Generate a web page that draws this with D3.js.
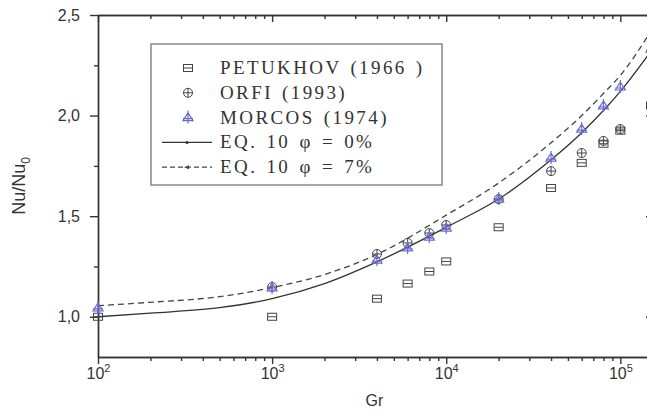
<!DOCTYPE html>
<html>
<head>
<meta charset="utf-8">
<script src="https://cdn.jsdelivr.net/npm/d3@7"></script>
<style>
  body { margin: 0; background: #fff; }
  .tick text { font-family: 'Liberation Sans', Arial, sans-serif; font-size: 16px; fill: #333; }
  .axis path, .axis line { stroke: #333; stroke-width: 1.4; }
  .legend-text { font-family: 'Liberation Serif', 'Times New Roman', serif; font-size: 19px; fill: #333; letter-spacing: 2.4px; word-spacing: 2px; white-space: pre; }
</style>
</head>
<body>
<script>
// measured data
const petukhovGr = [100, 1000, 4000, 6000, 8000, 10000, 20000, 40000, 60000, 80000, 100000, 150000]
const petukhovNu = [1.0, 1.0, 1.09, 1.165, 1.225, 1.275, 1.445, 1.64, 1.765, 1.86, 1.925, 2.05]

const orfiGr = [1000, 4000, 6000, 8000, 10000, 20000, 40000, 60000, 80000, 100000]
const orfiNu = [1.148, 1.312, 1.367, 1.416, 1.456, 1.585, 1.724, 1.814, 1.874, 1.933]

const morcosGr = [100, 1000, 4000, 6000, 8000, 10000, 20000, 40000, 60000, 80000, 100000, 150000]
const morcosNu = [1.044, 1.143, 1.282, 1.342, 1.396, 1.441, 1.585, 1.789, 1.933, 2.048, 2.142, 2.33]

// EQ. 10 curves
const eqGr = [100, 200, 500, 1000, 2000, 4000, 10000, 20000, 40000, 60000, 80000, 100000, 150000]
const eq0Nu = [1.0, 1.018, 1.045, 1.09, 1.165, 1.273, 1.445, 1.585, 1.78, 1.915, 2.025, 2.12, 2.32]
const eq7Nu = [1.055, 1.072, 1.10, 1.145, 1.21, 1.31, 1.505, 1.665, 1.865, 2.0, 2.11, 2.2, 2.42]

const xMajor = [100, 1000, 10000, 100000]
const yMajor = [1.0, 1.5, 2.0, 2.5]
const yMinor = [1.25, 1.75, 2.25]
const legendLabels = ['PETUKHOV (1966 )', 'ORFI (1993)', 'MORCOS (1974)', 'EQ. 10 \u03c6 = 0%', 'EQ. 10 \u03c6 = 7%']

const widthCanvas = 647
const heightCanvas = 413
const margin = {top: 15, left: 98}
const plotW = 553
const plotH = 342

const blue = '#6a6ad2'
const gray = '#444'

const svg = d3.select('body').append('svg')
  .attr('width', widthCanvas)
  .attr('height', heightCanvas)

const chart = svg.append('g')
  .attr('transform', `translate(${margin.left}, ${margin.top})`)

const xScale = d3.scaleLog()
  .domain([100, 150000])
  .range([0, plotW])

const yScale = d3.scaleLinear()
  .domain([0.8, 2.5])
  .range([plotH, 0])

const xMinor = []
for (let e = 2; e <= 5; e++) {
  for (let m = 2; m <= 9; m++) {
    const v = m * Math.pow(10, e)
    if (v <= 150000) xMinor.push(v)
  }
}

const comma = d3.formatLocale({decimal: ',', thousands: '.', grouping: [3], currency: ['', '']}).format('.1f')

// bottom axis (ticks outward)
chart.append('g').attr('class', 'axis')
  .attr('transform', `translate(0, ${plotH})`)
  .call(d3.axisBottom(xScale).tickValues(xMinor).tickSize(4).tickSizeOuter(0).tickFormat(''))
chart.append('g').attr('class', 'axis')
  .attr('transform', `translate(0, ${plotH})`)
  .call(d3.axisBottom(xScale).tickValues(xMajor).tickSize(7).tickSizeOuter(0).tickFormat(''))
  .selectAll('.tick').append('text')
  .attr('y', 22)
  .attr('text-anchor', 'middle')
  .attr('fill', '#333')
  .each(function(d) {
    const t = d3.select(this)
    t.append('tspan').text('10')
    t.append('tspan').attr('dy', -7).attr('font-size', 11).text(Math.round(Math.log10(d)))
  })

// top axis (ticks inward)
chart.append('g').attr('class', 'axis')
  .call(d3.axisTop(xScale).tickValues(xMinor).tickSize(-4).tickSizeOuter(0).tickFormat(''))
chart.append('g').attr('class', 'axis')
  .call(d3.axisTop(xScale).tickValues(xMajor).tickSize(-7).tickSizeOuter(0).tickFormat(''))

// left axis (ticks outward)
chart.append('g').attr('class', 'axis')
  .call(d3.axisLeft(yScale).tickValues(yMinor).tickSize(4).tickSizeOuter(0).tickFormat(''))
chart.append('g').attr('class', 'axis')
  .call(d3.axisLeft(yScale).tickValues(yMajor).tickSize(8).tickSizeOuter(0).tickPadding(10).tickFormat(comma))

// right axis (ticks inward)
chart.append('g').attr('class', 'axis')
  .attr('transform', `translate(${plotW}, 0)`)
  .call(d3.axisRight(yScale).tickValues(yMinor).tickSize(-3).tickSizeOuter(0).tickFormat(''))
chart.append('g').attr('class', 'axis')
  .attr('transform', `translate(${plotW}, 0)`)
  .call(d3.axisRight(yScale).tickValues(yMajor).tickSize(-5).tickSizeOuter(0).tickFormat(''))

// axis titles
svg.append('text')
  .attr('x', margin.left + plotW / 2)
  .attr('y', 406)
  .attr('text-anchor', 'middle')
  .attr('font-family', 'Liberation Sans, Arial, sans-serif')
  .attr('font-size', 16)
  .attr('fill', '#333')
  .text('Gr')

const yTitle = svg.append('text')
  .attr('transform', `translate(25, ${margin.top + plotH / 2}) rotate(-90)`)
  .attr('text-anchor', 'middle')
  .attr('font-family', 'Liberation Sans, Arial, sans-serif')
  .attr('font-size', 18)
  .attr('fill', '#333')
yTitle.append('tspan').text('Nu/Nu')
yTitle.append('tspan').attr('dy', 5).attr('font-size', 12).text('0')

// markers
function marker(g, type, x, y) {
  if (type === 'square') {
    g.append('rect').attr('x', x - 4.5).attr('y', y - 3.5).attr('width', 9).attr('height', 7)
      .attr('fill', 'none').attr('stroke', gray).attr('stroke-width', 1)
    g.append('line').attr('x1', x - 4.5).attr('x2', x + 4.5).attr('y1', y).attr('y2', y)
      .attr('stroke', gray).attr('stroke-width', 1)
  } else if (type === 'circle') {
    g.append('circle').attr('cx', x).attr('cy', y).attr('r', 4.5)
      .attr('fill', 'none').attr('stroke', gray).attr('stroke-width', 1)
    g.append('path').attr('d', `M${x - 4.5},${y}H${x + 4.5}M${x},${y - 4.5}V${y + 4.5}`)
      .attr('stroke', gray).attr('stroke-width', 1)
  } else {
    g.append('path')
      .attr('d', `M${x},${y - 5}L${x + 5},${y + 3}L${x - 5},${y + 3}Z M${x},${y - 7}V${y + 6} M${x - 5},${y + 1}H${x + 5}`)
      .attr('fill', 'none').attr('stroke', blue).attr('stroke-width', 1.2)
  }
}

const plot = chart.append('g')

// curves
const line = d3.line()
  .x(d => xScale(d[0]))
  .y(d => yScale(d[1]))
  .curve(d3.curveMonotoneX)

plot.append('path')
  .attr('d', line(eqGr.map((g, i) => [g, eq7Nu[i]])))
  .attr('fill', 'none')
  .attr('stroke', '#444')
  .attr('stroke-width', 1.3)
  .attr('stroke-dasharray', '6,4')

plot.append('path')
  .attr('d', line(eqGr.map((g, i) => [g, eq0Nu[i]])))
  .attr('fill', 'none')
  .attr('stroke', '#333')
  .attr('stroke-width', 1.3)

const pts = plot.append('g')
petukhovGr.forEach((g, i) => marker(pts, 'square', xScale(g), yScale(petukhovNu[i])))
orfiGr.forEach((g, i) => marker(pts, 'circle', xScale(g), yScale(orfiNu[i])))
morcosGr.forEach((g, i) => marker(pts, 'tri', xScale(g), yScale(morcosNu[i])))

// legend
const legend = svg.append('g')
legend.append('rect')
  .attr('x', 151).attr('y', 44).attr('width', 291).attr('height', 141)
  .attr('fill', '#fff').attr('stroke', '#888').attr('stroke-width', 1.5)

const rowY = d => 68 + d * 24.8
legendLabels.forEach((label, i) => {
  legend.append('text')
    .attr('class', 'legend-text')
    .attr('x', 220)
    .attr('y', rowY(i) + 6)
    .text(label)
})
marker(legend, 'square', 188, rowY(0))
marker(legend, 'circle', 188, rowY(1))
marker(legend, 'tri', 188, rowY(2))
legend.append('line').attr('x1', 162).attr('x2', 212).attr('y1', rowY(3)).attr('y2', rowY(3))
  .attr('stroke', '#333').attr('stroke-width', 1.3)
legend.append('circle').attr('cx', 187).attr('cy', rowY(3)).attr('r', 1.5).attr('fill', '#333')
legend.append('line').attr('x1', 162).attr('x2', 212).attr('y1', rowY(4)).attr('y2', rowY(4))
  .attr('stroke', '#444').attr('stroke-width', 1.3).attr('stroke-dasharray', '5,3')
legend.append('path').attr('d', `M184,${rowY(4)}L189,${rowY(4) - 2}V${rowY(4) + 2}Z`).attr('fill', '#444')
</script>
</body>
</html>
